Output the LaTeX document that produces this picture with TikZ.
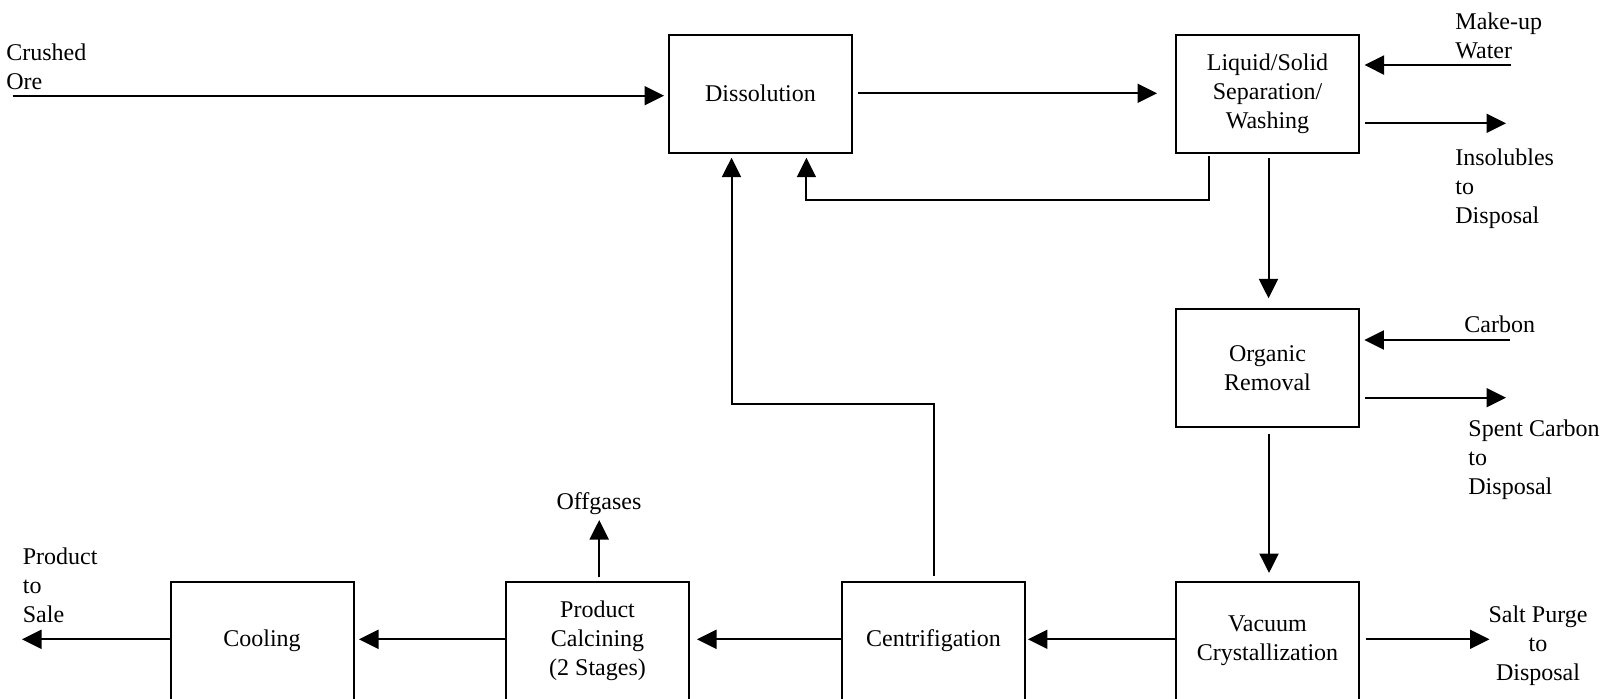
\documentclass[tikz,border=0pt]{standalone}
\usepackage{fontspec}
\setmainfont{Liberation Serif}
\usetikzlibrary{arrows.meta,calc}
\begin{document}
\begin{tikzpicture}[x=0.5pt,y=-0.5pt,
  box/.style={draw, line width=1pt, minimum width=91.5pt, minimum height=59pt,
    inner sep=0pt, align=center, font=\fontsize{12}{14.4}\selectfont},
  lbl/.style={inner sep=0pt, font=\fontsize{12}{14.4}\selectfont},
  arr/.style={line width=1pt, -{Triangle[length=9.75pt,width=9.5pt]}}]
\useasboundingbox (0,0) rectangle (1607,698);
\clip (0,0) rectangle (1607,698);

% process units
\node[box] (diss) at (760.5,93.7) {Dissolution};
\node[box] (lsw)  at (1267.5,93.7) {Liquid/Solid\\Separation/\\Washing};
\node[box, minimum height=58.7pt] (org) at (1267.5,368) {Organic\\Removal};
\node[box] (vac)  at (1267.5,640.7) {Vacuum\\Crystallization};
\node[box] (cent) at (933.4,640.7) {Centrifigation};
\node[box] (calc) at (597.5,640.7) {Product\\Calcining\\(2 Stages)};
\node[box] (cool) at (262,640.7) {Cooling};

% stream labels
\node[lbl, anchor=west, align=left] (oreL)   at (6,67)      {Crushed\\Ore};
\node[lbl, anchor=west, align=left] (waterL) at (1455,35.5) {Make-up\\Water};
\node[lbl, anchor=west, align=left] (insolL) at (1455,189)  {Insolubles\\to\\Disposal};
\node[lbl, anchor=west]             (carbL)  at (1464,324)  {Carbon};
\node[lbl, anchor=west, align=left] (spentL) at (1468,460)  {Spent Carbon\\to\\Disposal};
\node[lbl, align=center]            (saltL)  at (1538,646)  {Salt Purge\\to\\Disposal};
\node[lbl]                          (offg)   at (599,504)   {Offgases};
\node[lbl, anchor=west, align=left] (saleL)  at (22.5,585)  {Product\\to\\Sale};

% free stream ends
\coordinate (ore)   at (12.6,95.7);
\coordinate (water) at (1511,65);
\coordinate (insol) at (1506,123.3);
\coordinate (carb)  at (1510,340);
\coordinate (spent) at (1506,397.7);
\coordinate (salt)  at (1489.5,639.3);
\coordinate (sale)  at (22,639.3);

% main flow
\draw[arr] (ore) -- ($(diss.west)+(-4,2)$);
\draw[arr] ($(diss.east)+(4.5,-0.4)$) -- ($(lsw.west)+(-18,-0.4)$);
\draw[arr] (water) -- ($(lsw.east|-water)+(4.5,0)$);
\draw[arr] ($(lsw.east|-insol)+(5,0)$) -- (insol);
\draw[arr] ($(lsw.south)+(1,4.6)$) -- ($(org.north)+(1,-10)$);
\draw[arr] (carb) -- ($(org.east|-carb)+(4.3,0)$);
\draw[arr] ($(org.east|-spent)+(5,0)$) -- (spent);
\draw[arr] ($(org.south)+(1.5,6)$) -- ($(vac.north)+(1.5,-7.7)$);
\draw[arr] ($(vac.east)+(5.5,-1.4)$) -- (salt);
\draw[arr] ($(vac.west)+(0,-1.4)$) -- ($(cent.east)+(2,-1.4)$);
\draw[arr] ($(cent.west)+(0,-1.4)$) -- ($(calc.east)+(7,-1.4)$);
\draw[arr] ($(calc.west)+(0,-1.4)$) -- ($(cool.east)+(4.5,-1.4)$);
\draw[arr] ($(cool.west)+(0,-1.4)$) -- (sale);
\draw[arr] ($(calc.north)+(1.7,-3.4)$) -- ($(offg.south)+(0.2,4.6)$);

% recycle streams back to dissolution
\draw[arr] ($(lsw.south west)+(34,2.3)$) |- ($(diss.south east)+(-46.6,46.6)$)
  -- ($(diss.south east)+(-46.6,4)$);
\draw[arr] ($(cent.north)+(0.8,-5)$) |- ($(diss.south west)+(63.5,250)$)
  -- ($(diss.south west)+(63.5,4)$);
\end{tikzpicture}
\end{document}
